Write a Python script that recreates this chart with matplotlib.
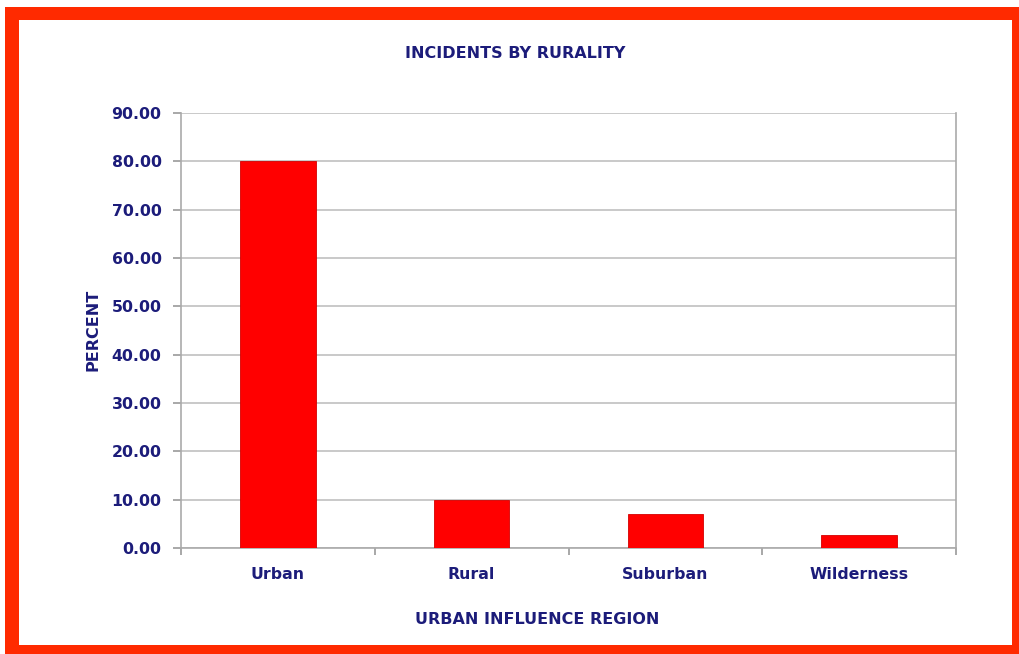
import matplotlib
matplotlib.use('Agg')
import matplotlib.pyplot as plt
from matplotlib.patches import Rectangle
from matplotlib.ticker import MultipleLocator, FormatStrFormatter

categories = ['Urban', 'Rural', 'Suburban', 'Wilderness']
percent = [80.0, 10.0, 7.0, 2.7]

navy = '#1c1c7a'
grid_grey = '#c0c0c0'
frame_red = '#ff2a00'

plt.rcParams['font.family'] = ['DejaVu Sans']


def add_frame(fig, w=1020, h=654):
    # (x0, y0 from top, x1, y1 from top) in pixels
    strips = [(5, 7, 19, 654), (5, 7, 1020, 20), (1012, 7, 1020, 654), (5, 645, 1020, 654)]
    for x0, y0, x1, y1 in strips:
        fig.patches.append(Rectangle((x0 / w, 1 - y1 / h), (x1 - x0) / w, (y1 - y0) / h,
                                     transform=fig.transFigure, facecolor=frame_red,
                                     edgecolor='none', zorder=10))


def create_graphic():
    fig = plt.figure(figsize=(10.2, 6.54), dpi=100)
    fig.patch.set_facecolor('white')
    add_frame(fig)

    ax = fig.add_axes([181 / 1020, 1 - 548 / 654, (956 - 181) / 1020, (548 - 113) / 654])
    x = range(len(categories))
    ax.bar(x, percent, width=0.39, color='#ff0000', edgecolor='#d40000',
           linewidth=0.6, zorder=3)

    ax.set_xlim(-0.5, len(categories) - 0.5)
    ax.set_ylim(0, 90)
    ax.yaxis.set_major_locator(MultipleLocator(10))
    ax.yaxis.set_major_formatter(FormatStrFormatter('%.2f'))
    ax.grid(axis='y', color=grid_grey, linewidth=1.2, zorder=0)

    ax.set_xticks(list(x))
    ax.set_xticklabels(categories)
    ax.set_xticks([i + 0.5 for i in range(-1, len(categories))], minor=True)
    ax.tick_params(axis='x', which='major', length=0, pad=14)
    ax.tick_params(axis='x', which='minor', length=5, color='#999999', width=1.2)
    ax.tick_params(axis='y', length=6, color='#999999', width=1.2, pad=8)

    for lab in ax.get_xticklabels() + ax.get_yticklabels():
        lab.set_fontsize(11.3)
        lab.set_fontweight('bold')
        lab.set_color(navy)

    ax.spines['top'].set_visible(False)
    for s in ['left', 'bottom', 'right']:
        ax.spines[s].set_color('#aaaaaa')
        ax.spines[s].set_linewidth(1.2)

    fig.text(515 / 1020, 1 - 54 / 654, 'INCIDENTS BY RURALITY', ha='center', va='center',
             fontsize=11.5, fontweight='bold', color=navy)
    fig.text(93 / 1020, 1 - 330 / 654, 'PERCENT', ha='center', va='center',
             rotation=90, fontsize=11.5, fontweight='bold', color=navy)
    fig.text(537 / 1020, 1 - 620 / 654, 'URBAN INFLUENCE REGION', ha='center', va='center',
             fontsize=11.5, fontweight='bold', color=navy)

    fig.savefig('out.png', dpi=100)


if __name__ == '__main__':
    create_graphic()
